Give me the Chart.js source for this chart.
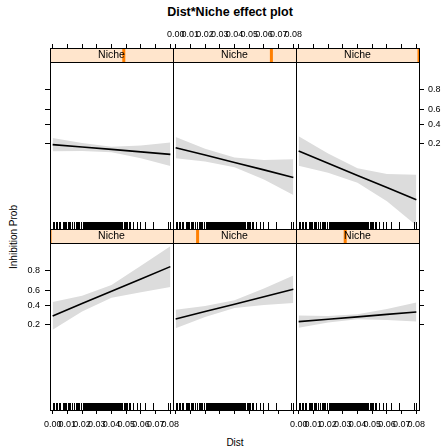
<!DOCTYPE html>
<html>
<head>
<meta charset="utf-8">
<script src="https://cdn.jsdelivr.net/npm/chart.js@4.4.1/dist/chart.umd.min.js"></script>
<style>
  body { margin: 0; background: #fff; }
  #wrap { position: relative; width: 444px; height: 447px; font-family: "Liberation Sans", Arial, sans-serif; color: #000; }
  #wrap canvas { position: absolute; left: 0; top: 0; }
  .lbl { position: absolute; white-space: nowrap; }
  #title { left: 0; width: 460px; top: 5px; text-align: center; font-weight: bold; font-size: 12.5px; line-height: 14px; }
  #xlab { left: 235px; top: 442px; transform: translate(-50%, -50%); font-size: 10px; }
  #ylab { left: 13px; top: 237px; transform: translate(-50%, -50%) rotate(-90deg); font-size: 10px; }
</style>
</head>
<body>
<div id="wrap">
  <div class="lbl" id="title">Dist*Niche effect plot</div>
  <div class="lbl" id="xlab">Dist</div>
  <div class="lbl" id="ylab">Inhibition Prob</div>
</div>
<script>
// axis ticks
const distTicks = [0, 0.01, 0.02, 0.03, 0.04, 0.05, 0.06, 0.07, 0.08];
const distTickLabels = ['0.00', '0.01', '0.02', '0.03', '0.04', '0.05', '0.06', '0.07', '0.08'];
const probTicks = [0.2, 0.4, 0.6, 0.8];
const probTickLabels = ['0.2', '0.4', '0.6', '0.8'];

// Dist values where the effect is evaluated
const distLevels = [0, 0.02, 0.04, 0.06, 0.08];
// Niche value of each panel, as a share of the Niche range (strip marker)
const nicheLevels = [0, 0.2, 0.4, 0.6, 0.8, 1.0];

// fitted probability with lower / upper band, one set per Niche level
const niche1Fit   = [0.284, 0.428, 0.584, 0.726, 0.833];
const niche1Lower = [0.163, 0.334, 0.502, 0.572, 0.637];
const niche1Upper = [0.447, 0.527, 0.661, 0.839, 0.934];

const niche2Fit   = [0.254, 0.332, 0.421, 0.516, 0.609];
const niche2Lower = [0.175, 0.274, 0.374, 0.412, 0.437];
const niche2Upper = [0.353, 0.397, 0.471, 0.619, 0.759];

const niche3Fit   = [0.229, 0.251, 0.275, 0.301, 0.328];
const niche3Lower = [0.178, 0.221, 0.250, 0.245, 0.230];
const niche3Upper = [0.288, 0.284, 0.302, 0.363, 0.443];

const niche4Fit   = [0.195, 0.176, 0.159, 0.143, 0.128];
const niche4Lower = [0.147, 0.149, 0.141, 0.107, 0.075];
const niche4Upper = [0.254, 0.207, 0.178, 0.188, 0.212];

const niche5Fit   = [0.171, 0.124, 0.088, 0.062, 0.043];
const niche5Lower = [0.107, 0.092, 0.070, 0.039, 0.018];
const niche5Upper = [0.264, 0.164, 0.111, 0.099, 0.103];

const niche6Fit   = [0.149, 0.085, 0.047, 0.026, 0.014];
const niche6Lower = [0.076, 0.054, 0.033, 0.013, 0.0038];
const niche6Upper = [0.270, 0.133, 0.067, 0.051, 0.049];

// observed Dist values (rug)
const distRug = [
  0.0002, 0.0012, 0.0021, 0.0030, 0.0041, 0.0049,
  0.0068, 0.0076, 0.0085, 0.0093, 0.0104, 0.0112, 0.0121, 0.0131,
  0.0148, 0.0157, 0.0163, 0.0172, 0.0181, 0.0190, 0.0196,
  0.0207, 0.0211, 0.0218, 0.0224, 0.0229, 0.0236, 0.0241, 0.0247, 0.0253, 0.0259,
  0.0264, 0.0270, 0.0277, 0.0283, 0.0288, 0.0294, 0.0301, 0.0306, 0.0312, 0.0318,
  0.0325, 0.0331, 0.0336, 0.0342, 0.0349, 0.0355, 0.0361, 0.0367, 0.0372, 0.0379,
  0.0386, 0.0391, 0.0398, 0.0404, 0.0411, 0.0417, 0.0424, 0.0431, 0.0437, 0.0444,
  0.0452, 0.0459, 0.0466, 0.0474, 0.0483, 0.0491, 0.0499, 0.0508, 0.0517, 0.0526,
  0.0549, 0.0571, 0.0594, 0.0628, 0.0684, 0.0786, 0.0800
];

const panelData = [
  [niche1Fit, niche1Lower, niche1Upper],
  [niche2Fit, niche2Lower, niche2Upper],
  [niche3Fit, niche3Lower, niche3Upper],
  [niche4Fit, niche4Lower, niche4Upper],
  [niche5Fit, niche5Lower, niche5Upper],
  [niche6Fit, niche6Lower, niche6Upper]
];

const logit = p => Math.log(p / (1 - p));

// page layout (lattice style 3 x 2)
const colEdges = [50, 173, 296, 419];
const rowEdges = [48, 229, 410];
const stripHeight = 14;
const panelHeight = 167;
const xMin = -0.0018, xMax = 0.0818;
const yMin = -5.75, yPanelMax = 2.82;
const yMax = yPanelMax + stripHeight * (yPanelMax - yMin) / panelHeight;
const xAxisSize = 22, leftAxisSize = 30, rightAxisSize = 25;
const rugLength = 7;

Chart.defaults.font.family = '"Liberation Sans", Arial, sans-serif';
Chart.defaults.color = '#000';

const panelDecor = {
  id: 'panelDecor',
  afterDraw(chart, args, opts) {
    const { ctx, chartArea: a } = chart;
    const x = chart.scales.x;
    const w = a.right - a.left;
    ctx.save();

    // rug along the panel bottom
    ctx.strokeStyle = '#000';
    ctx.lineWidth = 1;
    ctx.beginPath();
    distRug.forEach(v => {
      const px = Math.round(x.getPixelForValue(v)) + 0.5;
      ctx.moveTo(px, a.bottom);
      ctx.lineTo(px, a.bottom - rugLength);
    });
    ctx.stroke();

    // strip with Niche marker
    ctx.fillStyle = '#ffe5cc';
    ctx.fillRect(a.left, a.top, w, stripHeight);
    ctx.save();
    ctx.beginPath();
    ctx.rect(a.left, a.top, w, stripHeight);
    ctx.clip();
    ctx.fillStyle = '#ff7f00';
    ctx.fillRect(a.left + opts.level * w - 1.5, a.top, 3, stripHeight);
    ctx.restore();
    ctx.fillStyle = '#000';
    ctx.font = '10.5px "Liberation Sans", Arial, sans-serif';
    ctx.textAlign = 'center';
    ctx.textBaseline = 'middle';
    ctx.fillText('Niche', a.left + w / 2, a.top + stripHeight / 2 + 0.5);

    // panel and strip borders
    ctx.strokeStyle = '#000';
    ctx.strokeRect(a.left + 0.5, a.top + 0.5, w, a.bottom - a.top);
    ctx.beginPath();
    ctx.moveTo(a.left, a.top + stripHeight + 0.5);
    ctx.lineTo(a.right + 1, a.top + stripHeight + 0.5);
    ctx.stroke();
    ctx.restore();
  }
};

function makePanel(i) {
  const col = i % 3;
  const bottomRow = i < 3;
  const left = colEdges[col], right = colEdges[col + 1];
  const top = bottomRow ? rowEdges[1] : rowEdges[0];
  const bottom = bottomRow ? rowEdges[2] : rowEdges[1];
  const yPos = col === 0 ? 'left' : (col === 2 ? 'right' : null);

  // which sides carry tick labels
  const showX = bottomRow ? col !== 1 : col === 1;
  const showY = (col === 0 && bottomRow) || (col === 2 && !bottomRow);

  const pad = {
    left: col === 0 ? left - leftAxisSize : left,
    right: col === 2 ? 444 - right - rightAxisSize : 444 - right,
    top: bottomRow ? top : top - xAxisSize,
    bottom: bottomRow ? 447 - bottom - xAxisSize : 447 - bottom
  };

  const [fit, lower, upper] = panelData[i];
  const pts = arr => distLevels.map((d, k) => ({ x: d, y: logit(arr[k]) }));

  const canvas = document.createElement('canvas');
  canvas.width = 444;
  canvas.height = 447;
  document.getElementById('wrap').appendChild(canvas);

  new Chart(canvas, {
    type: 'line',
    data: {
      datasets: [
        { data: pts(upper), fill: '+1', backgroundColor: '#dcdcdc', borderColor: 'rgba(0,0,0,0)', borderWidth: 0, pointRadius: 0 },
        { data: pts(lower), fill: false, borderColor: 'rgba(0,0,0,0)', borderWidth: 0, pointRadius: 0 },
        { data: pts(fit), fill: false, borderColor: '#000', borderWidth: 1.6, pointRadius: 0 }
      ]
    },
    options: {
      responsive: false,
      animation: false,
      events: [],
      layout: { padding: pad },
      plugins: {
        legend: { display: false },
        tooltip: { enabled: false },
        filler: { drawTime: 'beforeDatasetsDraw' },
        panelDecor: { level: nicheLevels[i] }
      },
      scales: {
        x: {
          type: 'linear',
          position: bottomRow ? 'bottom' : 'top',
          min: xMin,
          max: xMax,
          afterBuildTicks: s => { s.ticks = distTicks.map(v => ({ value: v })); },
          afterFit: s => { s.height = xAxisSize; s.paddingLeft = 0; s.paddingRight = 0; },
          border: { display: false },
          grid: { drawOnChartArea: false, drawTicks: true, tickLength: 4, color: '#000', lineWidth: 1 },
          ticks: {
            display: showX,
            autoSkip: false,
            maxRotation: 0,
            minRotation: 0,
            padding: bottomRow ? 5 : 4,
            font: { size: 9 },
            callback: (v, idx) => distTickLabels[idx]
          }
        },
        y: {
          type: 'linear',
          display: yPos !== null,
          position: yPos || 'left',
          min: yMin,
          max: yMax,
          afterBuildTicks: s => { s.ticks = probTicks.map(p => ({ value: logit(p) })); },
          afterFit: s => {
            if (yPos) s.width = yPos === 'left' ? leftAxisSize : rightAxisSize;
            s.paddingTop = 0;
            s.paddingBottom = 0;
          },
          border: { display: false },
          grid: { drawOnChartArea: false, drawTicks: true, tickLength: 5, color: '#000', lineWidth: 1 },
          ticks: {
            display: showY,
            padding: yPos === 'left' ? 5 : 4,
            font: { size: 9 },
            callback: (v, idx) => probTickLabels[idx]
          }
        }
      }
    },
    plugins: [panelDecor]
  });
}

for (let i = 0; i < 6; i++) makePanel(i);
</script>
</body>
</html>
